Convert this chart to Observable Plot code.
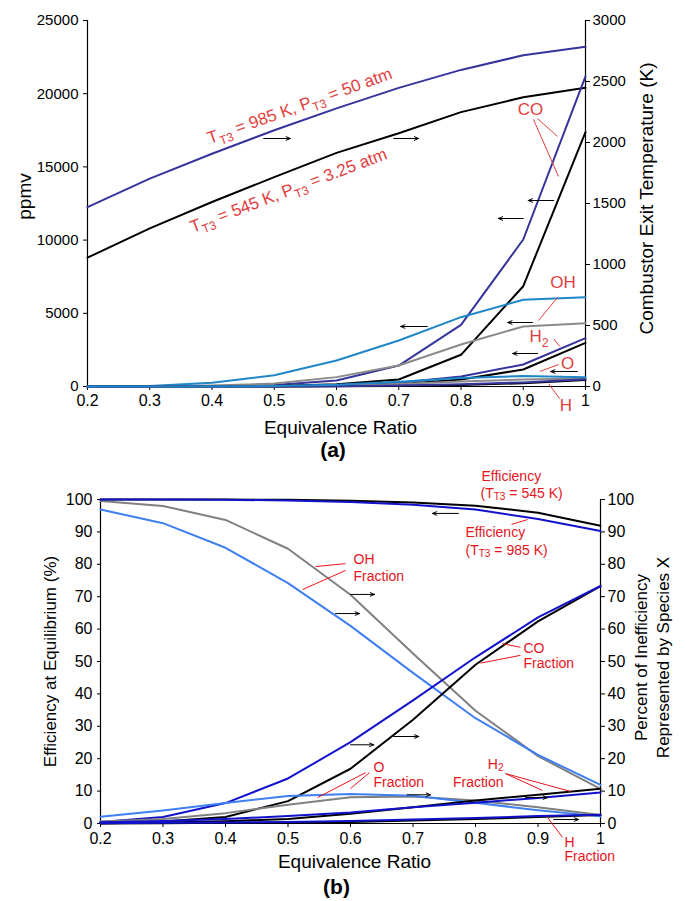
<!DOCTYPE html>
<html><head><meta charset="utf-8">
<script src="https://cdn.jsdelivr.net/npm/d3@7"></script>
<script src="https://cdn.jsdelivr.net/npm/@observablehq/plot@0.6"></script>
<style>body{margin:0;background:#fff;} svg{display:block;overflow:visible;} #a,#b{width:686px;}</style>
</head><body><div id="a"></div><div id="b"></div>
<script>
const FONT = "'Liberation Sans', Arial, Helvetica, sans-serif";
const phi = [0.2,0.3,0.4,0.5,0.6,0.7,0.8,0.9,1.0];
const xTicks = ["0.2","0.3","0.4","0.5","0.6","0.7","0.8","0.9","1"];

// ---- Panel (a) data ----
const tempK_985 = [1470,1704,1908,2100,2280,2448,2595,2715,2784];
const tempK_545 = [1056,1296,1512,1716,1915,2076,2249,2371,2448];
const co_985 = [0,5,20,100,410,1430,4210,10040,21180];
const co_545 = [0,2,10,40,150,480,2165,6850,17370];
const oh_985 = [0,30,250,775,1775,3140,4735,5920,6100];
const oh_545 = [0,10,60,200,640,1430,2870,4100,4320];
const h2_985 = [0,0,5,20,80,250,685,1500,3300];
const h2_545 = [0,0,2,10,40,150,480,1160,2985];
const o_985 = [0,0,5,30,120,330,580,720,640];
const o_545 = [0,0,2,10,50,170,340,480,540];
const h_985 = [0,0,0,5,20,60,150,280,500];
const h_545 = [0,0,0,2,10,40,110,220,450];
const ppmvTicks = [0,5000,10000,15000,20000,25000];
const kTicks = [0,500,1000,1500,2000,2500,3000];

const labelsA = [
  {x:0.5409, y:19165, text:"T_{T3} = 985 K, P_{T3} = 50 atm", rot:-19.7},
  {x:0.5229, y:13387, text:"T_{T3} = 545 K, P_{T3} = 3.25 atm", rot:-20.8}
];
const speciesA = [
  {x:0.9116, y:18920, text:"CO", a:"middle"},
  {x:0.9639, y:7070, text:"OH", a:"middle"},
  {x:0.9100, y:3429, text:"H_{2}", a:"start"},
  {x:0.9711, y:1571, text:"O", a:"middle"},
  {x:0.9684, y:-1298, text:"H", a:"middle"}
];
const leadersA = [
  [0.9229,18305,0.955,17075],[0.9165,18237,0.9566,14343],
  [0.955,6079,0.9245,4508],[0.949,3258,0.9587,2732],
  [0.957,1503,0.9266,1025],[0.941,184,0.9587,-840]
];
const arrowsA = [
  [0.483,16940,0.526,16940],[0.692,16940,0.732,16940],
  [0.949,12705,0.908,12705],[0.900,11475,0.860,11475],
  [0.746,4098,0.703,4098],[0.915,4371,0.875,4371],
  [0.923,2254,0.883,2254],[0.987,1025,0.944,1025]
];

// ---- Panel (b) data ----
const eff_545 = [100,100,100,99.9,99.6,99.1,98.1,95.9,91.9];
const eff_985 = [100,100,99.9,99.7,99.2,98.4,96.9,94.0,90.3];
const ohf_545 = [99.5,98.0,93.7,84.8,70.6,52.5,34.8,20.8,10.7];
const ohf_985 = [96.9,92.7,85.1,74.2,61.0,46.5,32.5,21.2,11.9];
const cof_985 = [0.5,2.0,6.3,13.9,25.1,38.0,51.3,63.6,73.3];
const cof_545 = [0.2,0.6,2.0,6.9,16.9,32.0,49.0,62.4,73.3];
const of_985 = [2.1,4.0,6.3,8.5,9.1,8.6,6.4,4.1,2.2];
const of_545 = [0.6,1.4,3.2,5.8,8.1,8.3,7.1,5.0,2.6];
const h2f_985 = [0.4,0.8,1.4,2.3,3.4,5.0,6.4,7.9,9.6];
const h2f_545 = [0.1,0.3,0.7,1.4,3.0,5.0,7.1,8.9,10.7];
const hf_985 = [0.1,0.2,0.3,0.5,0.8,1.2,1.7,2.3,2.7];
const hf_545 = [0.0,0.1,0.2,0.3,0.5,0.9,1.4,2.0,2.6];
const pctTicks = [0,10,20,30,40,50,60,70,80,90,100];

const labelsB = [
  {x:0.8096, y:105.6, text:"Efficiency", a:"start"},
  {x:0.8080, y:100.5, text:"(T_{T3} = 545 K)", a:"start"},
  {x:0.7840, y:88.3, text:"Efficiency", a:"start"},
  {x:0.7840, y:83.0, text:"(T_{T3} = 985 K)", a:"start"},
  {x:0.6048, y:80.2, text:"OH", a:"start"},
  {x:0.6048, y:75.0, text:"Fraction", a:"start"},
  {x:0.8768, y:52.5, text:"CO", a:"start"},
  {x:0.8768, y:48.0, text:"Fraction", a:"start"},
  {x:0.6368, y:15.9, text:"O", a:"start"},
  {x:0.6368, y:11.3, text:"Fraction", a:"start"},
  {x:0.8448, y:16.9, text:"H_{2}", a:"end"},
  {x:0.8448, y:11.3, text:"Fraction", a:"end"},
  {x:0.9424, y:-7.25, text:"H", a:"start"},
  {x:0.9424, y:-11.7, text:"Fraction", a:"start"}
];
const leadersB = [
  [0.8576,92.3,0.8832,93.8],[0.544,79.3,0.592,80.2],[0.5232,72.2,0.592,78.1],
  [0.8427,55.5,0.872,54.4],[0.808,49.5,0.872,51.9],
  [0.5472,8.0,0.624,15.7],[0.6,10.8,0.6304,15.7],
  [0.848,15.4,0.9072,10.2],[0.848,15.4,0.952,9.9],
  [0.9392,-4.3,0.9152,1.85]
];
const arrowsB = [
  [0.7728,95.7,0.7312,95.7],[0.6,70.7,0.6384,70.7],[0.576,64.8,0.6144,64.8],
  [0.6,24.3,0.6373,24.3],[0.6693,26.85,0.7093,26.85],[0.6907,8.86,0.728,8.86],
  [0.88,8.0,0.9152,8.0],[0.925,1.23,0.965,1.23]
];

// ---- helpers ----
const KtoP = k => k * 25000 / 3000;
const pts = ys => phi.map((x, i) => ({x, y: ys[i]}));
const ln = (ys, stroke, sw) => Plot.line(pts(ys), {x: "x", y: "y", stroke, strokeWidth: sw});
const segs = arr => arr.map(([x1,y1,x2,y2]) => ({x1,y1,x2,y2}));
const fmtX = d => xTicks[phi.indexOf(d)] ?? String(d);

function subscriptify(svg, shift) {
  const ns = "http://www.w3.org/2000/svg";
  svg.querySelectorAll("text").forEach(t => {
    const s = t.textContent;
    if (!s.includes("_{")) return;
    const fs = parseFloat(getComputedStyle(t).fontSize) || 14;
    t.textContent = "";
    const re = /_\{([^}]*)\}/g; let last = 0, m, shifted = false;
    const add = (txt, sub) => {
      const sp = document.createElementNS(ns, "tspan");
      sp.textContent = txt;
      if (sub) { sp.setAttribute("font-size", (fs * 0.72) + "px"); sp.setAttribute("dy", (fs * shift) + "px"); shifted = true; }
      else if (shifted) { sp.setAttribute("dy", (-fs * shift) + "px"); shifted = false; }
      t.appendChild(sp);
    };
    while ((m = re.exec(s))) {
      if (m.index > last) add(s.slice(last, m.index), false);
      add(m[1], true);
      last = re.lastIndex;
    }
    if (last < s.length) add(s.slice(last), false);
  });
}

const NAVY = "#34349c", LBLUE = "#1f86c8", GRAY = "#8a8a8a", RED_A = "#e23e3e";
const BLUE = "#1212cc", MBLUE = "#3f7ff2", GRAYB = "#808080", RED_B = "#e8141c";

// ---- Panel (a) ----
const plotA = Plot.plot({
  width: 686, height: 465,
  marginLeft: 87, marginRight: 101, marginTop: 20, marginBottom: 79,
  x: {domain: [0.2, 1]}, y: {domain: [0, 25000]},
  style: {fontFamily: FONT, background: "white", color: "black", overflow: "visible"},
  marks: [
    Plot.axisY(ppmvTicks, {anchor: "left", tickSize: 4, tickPadding: 5, fontSize: 15, label: null, tickFormat: d => String(d)}),
    Plot.axisY(kTicks.map(KtoP), {anchor: "right", tickSize: 4, tickPadding: 3, fontSize: 15, label: null, tickFormat: v => String(Math.round(v * 3000 / 25000))}),
    Plot.axisX(phi, {anchor: "bottom", tickSize: 4, tickPadding: 4, fontSize: 16, label: null, tickFormat: fmtX}),
    Plot.ruleX([0.2, 1], {stroke: "black", strokeWidth: 1.2}),
    Plot.ruleY([0], {stroke: "black", strokeWidth: 1}),
    ln(tempK_985.map(KtoP), NAVY, 2),
    ln(tempK_545.map(KtoP), "black", 2),
    ln(co_985, NAVY, 2),
    ln(co_545, "black", 2),
    ln(oh_545, GRAY, 2),
    ln(oh_985, LBLUE, 2),
    ln(h2_545, "black", 2),
    ln(h2_985, NAVY, 2),
    ln(h_545, "black", 2),
    ln(o_545, GRAY, 2),
    ln(h_985, NAVY, 2),
    ln(o_985, LBLUE, 2),
    Plot.link(segs(leadersA), {x1: "x1", y1: "y1", x2: "x2", y2: "y2", stroke: RED_A, strokeWidth: 1}),
    Plot.arrow(segs(arrowsA), {x1: "x1", y1: "y1", x2: "x2", y2: "y2", stroke: "black", strokeWidth: 1, headLength: 7, headAngle: 45}),
    Plot.text(labelsA, {x: "x", y: "y", text: "text", rotate: "rot", fontSize: 17, fill: RED_A, textAnchor: "middle", lineAnchor: "middle"}),
    Plot.text(speciesA.filter(d => d.a === "middle"), {x: "x", y: "y", text: "text", fontSize: 17, fill: RED_A, textAnchor: "middle", lineAnchor: "middle"}),
    Plot.text(speciesA.filter(d => d.a === "start"), {x: "x", y: "y", text: "text", fontSize: 17, fill: RED_A, textAnchor: "start", lineAnchor: "middle"}),
    Plot.text(["ppmv"], {frameAnchor: "left", dx: -63, dy: -7, rotate: -90, fontSize: 19, fill: "black", textAnchor: "middle", lineAnchor: "middle"}),
    Plot.text(["Combustor Exit Temperature (K)"], {frameAnchor: "right", dx: 61, dy: -5, rotate: -90, fontSize: 19, fill: "black", textAnchor: "middle", lineAnchor: "middle"}),
    Plot.text(["Equivalence Ratio"], {frameAnchor: "bottom", dx: 4, dy: 47, fontSize: 19, fill: "black", textAnchor: "middle", lineAnchor: "bottom"}),
    Plot.text(["(a)"], {frameAnchor: "bottom", dx: -3.5, dy: 70, fontSize: 21, fontWeight: "bold", fill: "black", textAnchor: "middle", lineAnchor: "bottom"})
  ]
});
document.getElementById("a").appendChild(plotA);
subscriptify(plotA, 0.28);

// ---- Panel (b) ----
const plotB = Plot.plot({
  width: 686, height: 436,
  marginLeft: 100, marginRight: 86, marginTop: 34, marginBottom: 78,
  x: {domain: [0.2, 1]}, y: {domain: [0, 100]},
  style: {fontFamily: FONT, background: "white", color: "black", overflow: "visible"},
  marks: [
    Plot.axisY(pctTicks, {anchor: "left", tickSize: 3, tickPadding: 5, fontSize: 16, label: null, tickFormat: d => String(d)}),
    Plot.axisY(pctTicks, {anchor: "right", tickSize: 4, tickPadding: 3, fontSize: 16, label: null, tickFormat: d => String(d)}),
    Plot.axisX(phi, {anchor: "bottom", tickSize: 4, tickPadding: 5, fontSize: 16, label: null, tickFormat: fmtX}),
    Plot.ruleX([0.2, 1], {stroke: "black", strokeWidth: 1.2}),
    Plot.ruleY([0], {stroke: "black", strokeWidth: 1}),
    ln(ohf_545, GRAYB, 2),
    ln(ohf_985, MBLUE, 2),
    ln(cof_545, "black", 2),
    ln(cof_985, BLUE, 2),
    ln(of_545, GRAYB, 2),
    ln(of_985, MBLUE, 2),
    ln(h2f_545, "black", 2),
    ln(h2f_985, BLUE, 2),
    ln(hf_545, "black", 2),
    ln(hf_985, BLUE, 2),
    ln(eff_545, "black", 2),
    ln(eff_985, BLUE, 2),
    Plot.link(segs(leadersB), {x1: "x1", y1: "y1", x2: "x2", y2: "y2", stroke: RED_B, strokeWidth: 1}),
    Plot.arrow(segs(arrowsB), {x1: "x1", y1: "y1", x2: "x2", y2: "y2", stroke: "black", strokeWidth: 1, headLength: 7, headAngle: 45}),
    Plot.text(labelsB.filter(d => d.a === "start"), {x: "x", y: "y", text: "text", fontSize: 14, fill: RED_B, textAnchor: "start", lineAnchor: "bottom"}),
    Plot.text(labelsB.filter(d => d.a === "end"), {x: "x", y: "y", text: "text", fontSize: 14, fill: RED_B, textAnchor: "end", lineAnchor: "bottom"}),
    Plot.text(["Efficiency at Equilibrium (%)"], {frameAnchor: "left", dx: -49.5, dy: 0, rotate: -90, fontSize: 17, fill: "black", textAnchor: "middle", lineAnchor: "middle"}),
    Plot.text(["Percent of Inefficiency"], {frameAnchor: "right", dx: 40.6, dy: -4, rotate: -90, fontSize: 17, fill: "black", textAnchor: "middle", lineAnchor: "middle"}),
    Plot.text(["Represented by Species X"], {frameAnchor: "right", dx: 62.6, dy: -4, rotate: -90, fontSize: 17, fill: "black", textAnchor: "middle", lineAnchor: "middle"}),
    Plot.text(["Equivalence Ratio"], {frameAnchor: "bottom", dx: 4, dy: 44, fontSize: 19, fill: "black", textAnchor: "middle", lineAnchor: "bottom"}),
    Plot.text(["(b)"], {frameAnchor: "bottom", dx: -14, dy: 70, fontSize: 21, fontWeight: "bold", fill: "black", textAnchor: "middle", lineAnchor: "bottom"})
  ]
});
document.getElementById("b").appendChild(plotB);
subscriptify(plotB, 0.18);
</script>
</body></html>
